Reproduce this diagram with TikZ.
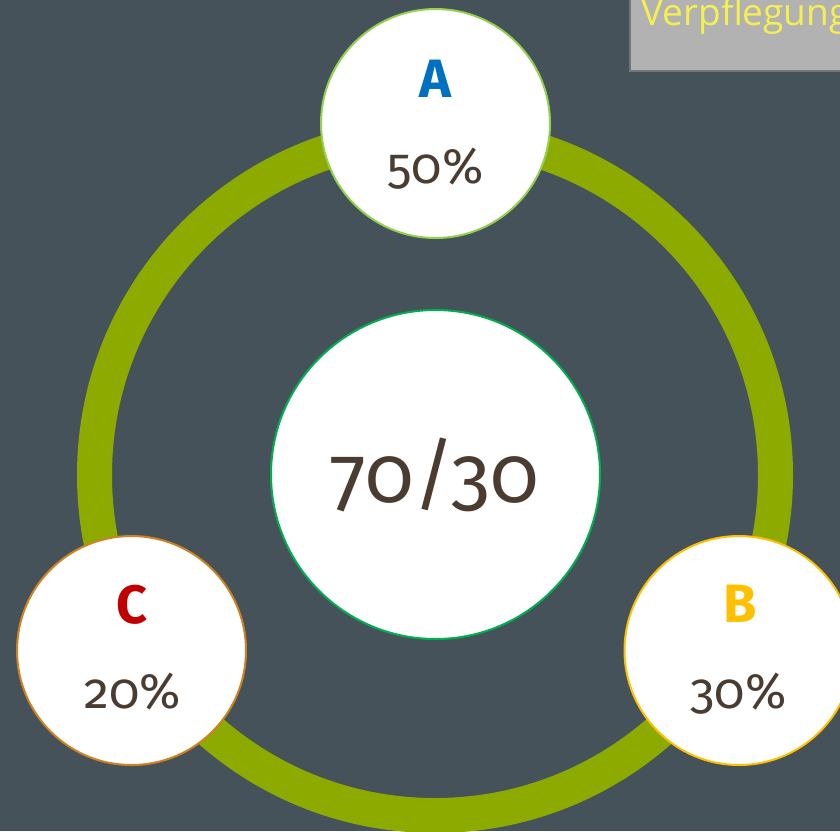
\documentclass[tikz,border=0pt]{standalone}
\usepackage{fontspec}
\setmainfont{Fira Sans}[Numbers=OldStyle]
\newfontfamily\boxfont{Open Sans}
\definecolor{bgc}{RGB}{70,82,90}
\definecolor{ringc}{RGB}{140,170,0}
\definecolor{aborder}{RGB}{146,208,80}
\definecolor{cborder}{RGB}{208,130,32}
\definecolor{bborder}{RGB}{255,192,0}
\definecolor{mborder}{RGB}{0,176,80}
\definecolor{aletter}{RGB}{0,112,192}
\definecolor{cletter}{RGB}{192,0,0}
\definecolor{bletter}{RGB}{255,192,0}
\definecolor{txtc}{RGB}{74,60,48}
\definecolor{boxfill}{RGB}{178,178,178}
\definecolor{boxline}{RGB}{110,118,122}
\definecolor{boxtext}{RGB}{245,240,80}
\tikzset{
  bubble/.style={circle, fill=white, line width=2pt, inner sep=0pt, minimum size=229pt},
  letter/.style={anchor=base, inner sep=0pt, font=\fontsize{54}{60}\selectfont\bfseries},
  pct/.style={anchor=base, inner sep=0pt, text=txtc, font=\fontsize{50}{56}\selectfont},
}
\begin{document}
\begin{tikzpicture}[x=1pt,y=-1pt]
\useasboundingbox (0,0) rectangle (840,831);
\fill[bgc] (0,0) rectangle (840,831);
% top right box
\draw[fill=boxfill, draw=boxline, line width=1.5pt] (630,-5) rectangle (860,71);
\node[anchor=base west, inner sep=0pt, text=boxtext, font=\boxfont\fontsize{37}{42}\selectfont] (verpf) at (641,25) {Verpflegung};
% ring
\coordinate (ringc) at (435,475);
\draw[ringc, line width=35pt] (ringc) circle[radius=340.5];
% centre
\node[bubble, draw=mborder, minimum size=329pt] (mid) at (435.5,474.5) {};
\node[anchor=base, inner sep=0pt, text=txtc, font=\fontsize{80}{86}\selectfont] (midtxt) at (434.5,502) {70/30};
% A
\node[bubble, draw=aborder] (A) at (435.5,123.5) {};
\node[letter, text=aletter] (Al) at (435.5,97) {A};
\node[pct] (Ap) at (435.5,183) {50\%};
% C
\node[bubble, draw=cborder] (C) at (131.5,650.5) {};
\node[letter, text=cletter] (Cl) at (132,623) {C};
\node[pct] (Cp) at (132.5,708) {20\%};
% B
\node[bubble, draw=bborder] (B) at (739,650.5) {};
\node[letter, text=bletter] (Bl) at (740,622) {B};
\node[pct] (Bp) at (738.5,708) {30\%};
\end{tikzpicture}
\end{document}
